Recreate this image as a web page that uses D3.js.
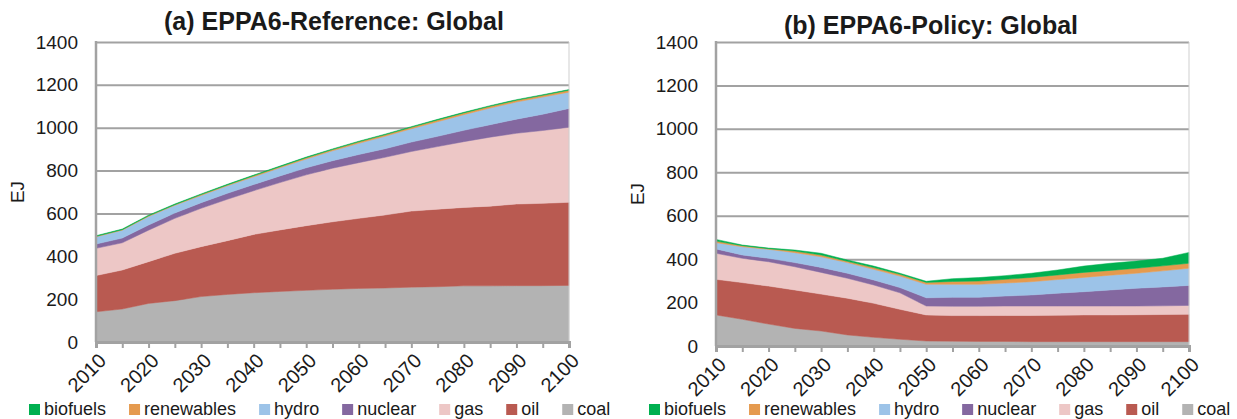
<!DOCTYPE html>
<html lang="en">
<head>
  <meta charset="UTF-8">
  <title>EPPA6 Global primary energy</title>
  <script src="https://d3js.org/d3.v7.min.js"></script>
  <style>
    body { margin: 0; background: #fff; }
    text { font-family: "Liberation Sans", Arial, Helvetica, sans-serif; fill: #1a1a1a; }
  </style>
</head>
<body>
</body>
<script>
  const width = 1237, height = 419;

  // data (EJ), 5-year steps
  const years = [2010, 2015, 2020, 2025, 2030, 2035, 2040, 2045, 2050, 2055,
                 2060, 2065, 2070, 2075, 2080, 2085, 2090, 2095, 2100];
  const yTicks = [0, 200, 400, 600, 800, 1000, 1200, 1400];

  const fuels = ['coal', 'oil', 'gas', 'nuclear', 'hydro', 'renewables', 'biofuels'];
  const legendOrder = ['biofuels', 'renewables', 'hydro', 'nuclear', 'gas', 'oil', 'coal'];
  const colors = {
    biofuels: '#00b050', renewables: '#e59a4e', hydro: '#9cc3e8', nuclear: '#8468a0',
    gas: '#edc7c6', oil: '#b95a51', coal: '#b3b3b3'
  };

  // (a) reference
  const refCoal    = [141, 154, 180, 193, 212, 222, 230, 236, 241, 246, 250, 252, 256, 258, 262, 262, 263, 263, 264];
  const refOil     = [169, 182, 195, 221, 233, 251, 272, 287, 302, 315, 327, 341, 355, 362, 366, 372, 381, 384, 388];
  const refGas     = [127, 127, 147, 163, 179, 193, 204, 221, 237, 250, 260, 269, 278, 292, 307, 322, 330, 340, 350];
  const refNuclear = [20, 22, 24, 25, 26, 28, 29, 31, 33, 35, 38, 40, 44, 48, 53, 58, 66, 76, 88];
  const refHydro   = [34, 37, 40, 36, 34, 35, 36, 38, 41, 46, 52, 58, 62, 68, 73, 78, 80, 80, 76];
  const refRenew   = [2, 2, 3, 3, 4, 4, 5, 5, 6, 6, 7, 7, 7, 8, 8, 8, 8, 8, 9];
  const refBio     = [3, 3, 3, 3, 3, 3, 3, 3, 3, 3, 3, 3, 3, 3, 3, 3, 3, 3, 3];

  // (b) policy
  const polCoal    = [143, 123, 101, 81, 69, 51, 40, 31, 23, 22, 21, 21, 20, 20, 20, 20, 20, 20, 20];
  const polOil     = [164, 169, 175, 177, 170, 169, 157, 138, 120, 118, 119, 120, 121, 122, 123, 123, 124, 125, 126];
  const polGas     = [120, 112, 112, 107, 100, 92, 84, 76, 41, 43, 43, 43, 43, 42, 41, 41, 40, 40, 41];
  const polNuclear = [20, 15, 16, 19, 23, 23, 23, 24, 38, 41, 41, 46, 51, 59, 66, 74, 82, 87, 92];
  const polHydro   = [29, 38, 41, 46, 49, 49, 49, 53, 62, 60, 60, 60, 61, 63, 66, 68, 69, 74, 79];
  const polRenew   = [7, 5, 3, 7, 8, 6, 8, 8, 9, 13, 15, 17, 20, 21, 23, 22, 23, 23, 23];
  const polBio     = [8, 3, 3, 5, 8, 6, 7, 5, 5, 13, 16, 17, 19, 23, 29, 33, 33, 35, 50];

  function makeRows(coal, oil, gas, nuclear, hydro, renewables, biofuels) {
    return years.map((year, i) => ({
      year, coal: coal[i], oil: oil[i], gas: gas[i], nuclear: nuclear[i],
      hydro: hydro[i], renewables: renewables[i], biofuels: biofuels[i]
    }));
  }

  const svg = d3.select('body').append('svg').attr('width', width).attr('height', height);

  function drawPanel(opts) {
    const {left, right, top, bottom, rows, title, titleX, titleY, legendX} = opts;
    const g = svg.append('g');

    const x = d3.scaleLinear().domain([2010, 2100]).range([left, right]);
    const y = d3.scaleLinear().domain([0, 1400]).range([bottom, top]);

    // gridlines + y labels
    const yAxis = g.append('g')
      .attr('transform', `translate(${left},0)`)
      .call(d3.axisLeft(y).tickValues(yTicks).tickSize(-(right - left)).tickPadding(18)
        .tickFormat(d3.format('d')));
    yAxis.select('.domain').remove();
    yAxis.selectAll('line').attr('stroke', '#a2a2a2').attr('stroke-width', 2);
    yAxis.selectAll('text').attr('font-size', 19).style('font-family', null);

    // stacked areas
    const series = d3.stack().keys(fuels)(rows);
    const area = d3.area()
      .x(d => x(d.data.year))
      .y0(d => y(d[0]))
      .y1(d => y(d[1]));

    g.append('g')
      .selectAll('path')
      .data(series)
      .join('path')
      .attr('fill', d => colors[d.key])
      .attr('stroke', d => colors[d.key])
      .attr('stroke-width', 0.5)
      .attr('d', area);

    // frame
    g.append('line')
      .attr('x1', right).attr('x2', right).attr('y1', top).attr('y2', bottom)
      .attr('stroke', '#cfcfcf').attr('stroke-width', 1);
    g.append('line')
      .attr('x1', left).attr('x2', left).attr('y1', top - 1).attr('y2', bottom)
      .attr('stroke', '#a2a2a2').attr('stroke-width', 2.5);

    // x axis
    const xAxis = g.append('g')
      .attr('transform', `translate(0,${bottom})`)
      .call(d3.axisBottom(x).tickValues(years).tickSize(6)
        .tickFormat(d => d % 10 === 0 ? d : ''));
    xAxis.select('.domain').attr('stroke', '#a2a2a2').attr('stroke-width', 3);
    xAxis.selectAll('line').attr('stroke', '#a2a2a2').attr('stroke-width', 2);
    xAxis.selectAll('text')
      .attr('font-size', 20).style('font-family', null)
      .attr('text-anchor', 'end')
      .attr('x', 0).attr('y', 0).attr('dy', '0.35em')
      .attr('transform', 'translate(6,15) rotate(-45)');

    // y title
    g.append('text')
      .attr('transform', `translate(${left - 72},${(top + bottom) / 2}) rotate(-90)`)
      .attr('text-anchor', 'middle')
      .attr('font-size', 19)
      .text('EJ');

    // title
    g.append('text')
      .attr('x', titleX).attr('y', titleY)
      .attr('text-anchor', 'middle')
      .attr('font-size', 25).attr('font-weight', 'bold')
      .text(title);

    // legend
    const legend = g.append('g').attr('transform', `translate(${legendX},0)`);
    let cx = 0;
    legendOrder.forEach(name => {
      legend.append('rect')
        .attr('x', cx).attr('y', 404).attr('width', 11).attr('height', 11)
        .attr('fill', colors[name]);
      const t = legend.append('text')
        .attr('x', cx + 15).attr('y', 415)
        .attr('font-size', 18)
        .text(name);
      cx += 15 + t.node().getComputedTextLength() + 23;
    });
  }

  drawPanel({
    left: 96, right: 569, top: 42, bottom: 342,
    rows: makeRows(refCoal, refOil, refGas, refNuclear, refHydro, refRenew, refBio),
    title: '(a) EPPA6-Reference: Global', titleX: 334, titleY: 30, legendX: 29
  });

  drawPanel({
    left: 716, right: 1189, top: 42, bottom: 346,
    rows: makeRows(polCoal, polOil, polGas, polNuclear, polHydro, polRenew, polBio),
    title: '(b) EPPA6-Policy: Global', titleX: 931, titleY: 34, legendX: 649
  });
</script>
</html>
